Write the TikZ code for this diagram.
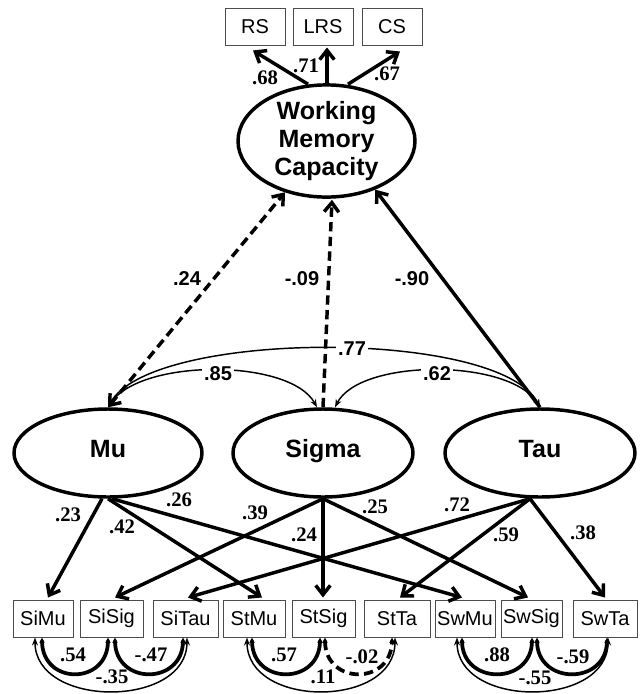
\documentclass[tikz,border=0pt]{standalone}
\usepackage{fontspec}
\setmainfont{Liberation Serif}
\setsansfont{Liberation Sans}
\usetikzlibrary{arrows.meta,shapes.geometric,calc}
\begin{document}
\begin{tikzpicture}[x=0.75pt,y=-0.75pt,
  box/.style={draw=black!70,line width=0.75pt,minimum width=#1,minimum height=27.75pt,inner sep=0pt,font=\sffamily\fontsize{15}{17}\selectfont},
  box/.default=45pt,
  latent/.style={ellipse,draw,line width=2.6pt,inner sep=0pt,minimum height=66pt,font=\sffamily\bfseries\fontsize{18.75}{21}\selectfont},
  onel/.style={text height=0.72em,text depth=0pt},
  load/.style={line width=2.6pt,-{Straight Barb[length=7pt,width=11pt]}},
  dload/.style={line width=2.6pt,{Straight Barb[length=7pt,width=11pt]}-{Straight Barb[length=7pt,width=11pt]}},
  dashline/.style={dash pattern=on 7pt off 4pt},
  cov/.style={line width=1.1pt,{Stealth[length=6pt,width=4.5pt]}-{Stealth[length=6pt,width=4.5pt]}},
  tcov/.style={line width=2.8pt,{Stealth[length=4pt,width=4pt]}-{Stealth[length=4pt,width=4pt]}},
  lab/.style={inner sep=1pt,font=\rmfamily\bfseries\fontsize{15.5}{17}\selectfont},
  slab/.style={inner sep=1.5pt,font=\sffamily\bfseries\fontsize{15}{17}\selectfont},
]
\useasboundingbox (0,0) rectangle (642,694);

% top indicators
\node[box] (rs) at (255,26.5) {RS};
\node[box] (lrs) at (323,26.5) {LRS};
\node[box] (cs) at (392,26.5) {CS};

% latent variables
\node[latent,minimum width=132.75pt,align=center] (wmc) at (326.5,141) {Working\\Memory\\Capacity};
\node[latent,onel,minimum width=141pt] (mu) at (108,453) {Mu};
\node[latent,onel,minimum width=135pt] (sigma) at (323,453) {Sigma};
\node[latent,onel,minimum width=142.5pt] (tau) at (540,453) {Tau};

% bottom indicators
\node[box=45pt] (simu) at (43,618.5) {SiMu};
\node[box=47.25pt] (sisig) at (111.5,618.5) {SiSig};
\node[box=48.75pt] (sitau) at (185.5,618.5) {SiTau};
\node[box=46.5pt] (stmu) at (254,618.5) {StMu};
\node[box=47.25pt] (stsig) at (323.5,618.5) {StSig};
\node[box=49.5pt] (stta) at (397,618.5) {StTa};
\node[box=45pt] (swmu) at (465,618.5) {SwMu};
\node[box=45.75pt] (swsig) at (531.5,618.5) {SwSig};
\node[box=48pt] (swta) at (605,618.5) {SwTa};

% WMC loadings
\draw[load] ($(wmc.north)+(-18.5,1)$) -- ($(rs.south)+(-2,5)$);
\draw[load] ($(wmc.north)+(0.5,0)$) -- ($(lrs.south)+(4,2)$);
\draw[load] ($(wmc.north)+(21.5,1)$) -- ($(cs.south)+(8,6)$);
\node[lab] (l68) at (265,78) {.68};
\node[lab] (l71) at (306,66) {.71};
\node[lab] (l67) at (387,74) {.67};

% latent correlations with WMC
\draw[dload,dashline] (mu.north) -- (wmc.231);
\draw[load,dashline] (sigma.north) -- ($(wmc.south)+(5.5,1)$);
\draw[load] (tau.north) -- (wmc.-45);
\node[slab] (c24) at (187,279) {.24};
\node[slab] (c09) at (302,279) {-.09};
\node[slab] (c90) at (412,279) {-.90};

% latent covariances
\draw[cov] (mu.north) .. controls +(42,-78) and +(-40,-79) .. (tau.north);
\draw[cov] (mu.north) .. controls +(32,-49) and +(-27,-49) .. ($(sigma.north)+(-6,0)$);
\draw[cov] ($(sigma.north)+(12,0)$) .. controls +(25,-49) and +(-30,-49) .. (tau.north);
\node[slab,fill=white] (c77) at (352,349) {.77};
\node[slab,fill=white] (c85) at (218,374) {.85};
\node[slab,fill=white] (c62) at (437,374) {.62};

% factor loadings
\draw[load] ($(mu.south)+(-6,0)$) -- ($(simu.north)+(5,-2)$);
\draw[load] (mu.south) -- ($(stmu.north)+(8,-2)$);
\draw[load] ($(mu.south)+(4,0)$) -- ($(swmu.north)+(-3,-2)$);
\draw[load] (sigma.south) -- ($(sisig.north)+(3.5,-2)$);
\draw[load] (sigma.south) -- ($(stsig.north)+(-0.5,-2)$);
\draw[load] (sigma.south) -- ($(swsig.north)+(-3.5,-2)$);
\draw[load] ($(tau.south)+(-10,0)$) -- ($(sitau.north)+(2.5,-2)$);
\draw[load] ($(tau.south)+(-10,0)$) -- ($(stta.north)+(3,-2)$);
\draw[load] ($(tau.south)+(-10,0)$) -- ($(swta.north)+(0,-2)$);
\node[lab] (l23) at (68,515) {.23};
\node[lab] (l42) at (122,527) {.42};
\node[lab] (l26) at (179,500) {.26};
\node[lab] (l39) at (255,513) {.39};
\node[lab] (l24) at (304,535) {.24};
\node[lab] (l25) at (375,507) {.25};
\node[lab] (l72) at (457,505) {.72};
\node[lab] (l59) at (506,535) {.59};
\node[lab] (l38) at (583,533) {.38};

% residual covariances
\draw[tcov] ($(simu.south)+(-1,0)$) .. controls +(0,48) and +(0,48) .. ($(sisig.south)+(-3.5,0)$);
\draw[tcov] ($(sisig.south)+(3.5,0)$) .. controls +(0,48) and +(0,48) .. ($(sitau.south)+(-2.5,0)$);
\draw[cov] ($(simu.south)+(-8,0)$) .. controls +(0,71) and +(0,71) .. ($(sitau.south)+(1.5,0)$);
\node[lab] (r54) at (73,655) {.54};
\node[lab] (r47) at (151,655) {-.47};
\node[lab] (r35) at (112,677) {-.35};

\draw[tcov] ($(stmu.south)+(-2,0)$) .. controls +(0,48) and +(0,48) .. ($(stsig.south)+(-3.5,0)$);
\draw[tcov,dashline] ($(stsig.south)+(1.5,0)$) .. controls +(0,48) and +(0,48) .. ($(stta.south)+(-5,0)$);
\draw[cov] ($(stmu.south)+(-7,0)$) .. controls +(0,71) and +(0,71) .. ($(stta.south)+(-2,0)$);
\node[lab] (r57) at (284,655) {.57};
\node[lab] (r02) at (362,657) {-.02};
\node[lab] (r11) at (323,677) {.11};

\draw[tcov] ($(swmu.south)+(-3,0)$) .. controls +(0,48) and +(0,48) .. ($(swsig.south)+(0.5,0)$);
\draw[tcov] ($(swsig.south)+(5.5,0)$) .. controls +(0,48) and +(0,48) .. ($(swta.south)+(2,0)$);
\draw[cov] ($(swmu.south)+(-8,0)$) .. controls +(0,71) and +(0,71) .. ($(swta.south)+(3,0)$);
\node[lab] (r88) at (497,655) {.88};
\node[lab] (r59) at (573,657) {-.59};
\node[lab] (r55) at (535,678) {-.55};
\end{tikzpicture}
\end{document}
